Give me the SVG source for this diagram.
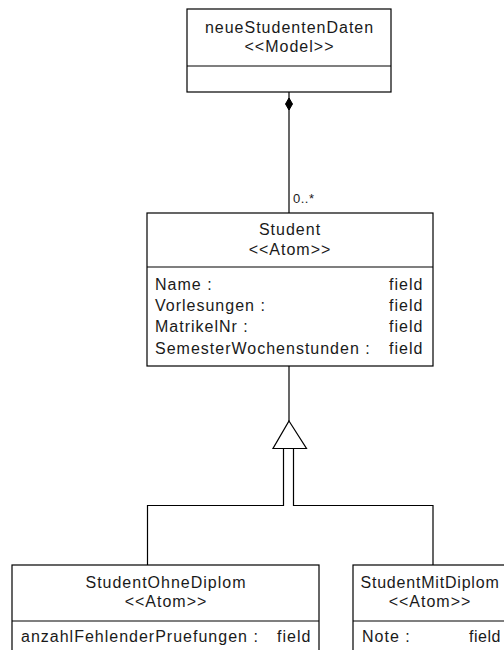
<svg xmlns="http://www.w3.org/2000/svg" width="504" height="650" viewBox="0 0 504 650">
  <style>
    .box { fill: #ffffff; stroke: #000000; stroke-width: 1.2; }
    .sep { stroke: #000000; stroke-width: 1.2; }
    .edge { fill: none; stroke: #000000; stroke-width: 1.2; }
    text { font-family: "Liberation Sans", Arial, sans-serif; font-size: 16px; letter-spacing: 1px; fill: #1a1a1a; }
    .title { text-anchor: middle; }
    .small { font-size: 13px; letter-spacing: 0.5px; }
  </style>
  <rect x="0" y="0" width="504" height="650" fill="#ffffff"/>

  <!-- connectors -->
  <g id="connectors">
    <!-- composition: Model owns 0..* Student -->
    <line class="edge" x1="289" y1="92" x2="289" y2="213"/>
    <polygon points="289,98 292.5,104 289,110 285.5,104" fill="#000000" stroke="#000000" stroke-width="1"/>
    <text class="small" x="293" y="203">0..*</text>
    <!-- generalization: subclasses to Student -->
    <line class="edge" x1="289" y1="366" x2="289" y2="421"/>
    <polygon class="edge" points="289,421 306.5,448.5 273,448.5"/>
    <polyline class="edge" points="283.5,448.5 283.5,505.5 147.5,505.5 147.5,565"/>
    <polyline class="edge" points="293.5,448.5 293.5,505.5 433,505.5 433,565"/>
  </g>

  <g id="neueStudentenDaten">
    <rect class="box" x="187" y="9" width="204" height="83"/>
    <line class="sep" x1="187" y1="66" x2="391" y2="66"/>
    <text class="title" x="289.5" y="33">neueStudentenDaten</text>
    <text class="title" x="289.5" y="52">&lt;&lt;Model&gt;&gt;</text>
  </g>

  <g id="Student">
    <rect class="box" x="147" y="213" width="286" height="153"/>
    <line class="sep" x1="147" y1="267" x2="433" y2="267"/>
    <text class="title" x="290" y="235">Student</text>
    <text class="title" x="290" y="255">&lt;&lt;Atom&gt;&gt;</text>
    <text x="155" y="290">Name :</text>
    <text x="389" y="290">field</text>
    <text x="155" y="311">Vorlesungen :</text>
    <text x="389" y="311">field</text>
    <text x="155" y="332">MatrikelNr :</text>
    <text x="389" y="332">field</text>
    <text x="155" y="354">SemesterWochenstunden :</text>
    <text x="389" y="354">field</text>
  </g>

  <g id="StudentOhneDiplom">
    <rect class="box" x="12" y="565" width="307" height="100"/>
    <line class="sep" x1="12" y1="621" x2="319" y2="621"/>
    <text class="title" x="166" y="588">StudentOhneDiplom</text>
    <text class="title" x="166" y="607">&lt;&lt;Atom&gt;&gt;</text>
    <text x="21" y="642">anzahlFehlenderPruefungen :</text>
    <text x="277" y="642">field</text>
  </g>

  <g id="StudentMitDiplom">
    <rect class="box" x="353" y="565" width="156" height="100"/>
    <line class="sep" x1="353" y1="621" x2="509" y2="621"/>
    <text class="title" x="430" y="588" style="letter-spacing:0.8px">StudentMitDiplom</text>
    <text class="title" x="430" y="607">&lt;&lt;Atom&gt;&gt;</text>
    <text x="362" y="642">Note :</text>
    <text x="469" y="642" style="letter-spacing:0.5px">field</text>
  </g>
</svg>
